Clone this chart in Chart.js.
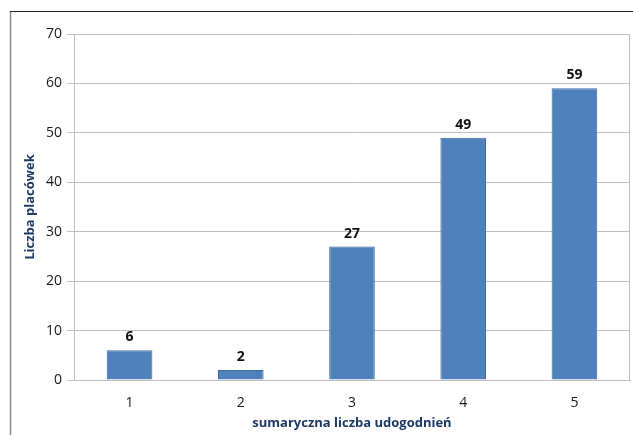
<!DOCTYPE html>
<html>
<head>
<meta charset="utf-8">
<script src="https://cdn.jsdelivr.net/npm/chart.js@4"></script>
<style>
  html, body { margin: 0; padding: 0; background: #fff; }
  #wrap { width: 633px; height: 435px; }
</style>
</head>
<body>
<div id="wrap"><canvas id="chart" width="633" height="435"></canvas></div>
<script>
const categories = ['1', '2', '3', '4', '5'];
const counts = [6, 2, 27, 49, 59];
const yTicks = [0, 10, 20, 30, 40, 50, 60, 70];

const fontFamily = "'Open Sans', 'Liberation Sans', sans-serif";

// frame around the picture and border of the plot area
const framePlugin = {
  id: 'frame',
  afterDraw(chart) {
    const ctx = chart.ctx;
    const a = chart.chartArea;
    ctx.save();
    ctx.strokeStyle = '#8c8c8c';
    ctx.lineWidth = 1.5;
    ctx.beginPath();
    ctx.moveTo(10.5, 11);
    ctx.lineTo(10.5, 435);
    ctx.stroke();
    ctx.strokeStyle = '#222';
    ctx.lineWidth = 1.2;
    ctx.beginPath();
    ctx.moveTo(10, 11.5);
    ctx.lineTo(633, 11.5);
    ctx.stroke();
    ctx.strokeStyle = '#bfbfbf';
    ctx.lineWidth = 1;
    ctx.beginPath();
    ctx.moveTo(a.right - 0.5, a.top);
    ctx.lineTo(a.right - 0.5, a.bottom);
    ctx.stroke();
    ctx.restore();
  }
};

// value labels above the bars
const labelPlugin = {
  id: 'barLabels',
  afterDatasetsDraw(chart) {
    const ctx = chart.ctx;
    const meta = chart.getDatasetMeta(0);
    ctx.save();
    ctx.font = 'bold 14px ' + fontFamily;
    ctx.fillStyle = '#111';
    ctx.textAlign = 'center';
    ctx.textBaseline = 'alphabetic';
    meta.data.forEach((bar, i) => {
      ctx.fillText(String(counts[i]), bar.x, bar.y - 9);
    });
    ctx.restore();
  }
};

new Chart(document.getElementById('chart').getContext('2d'), {
  type: 'bar',
  data: {
    labels: categories,
    datasets: [{
      data: counts,
      backgroundColor: '#4f81bd',
      borderColor: '#3e6ea6',
      borderWidth: 1,
      categoryPercentage: 1,
      barPercentage: 0.41
    }]
  },
  options: {
    responsive: false,
    animation: false,
    layout: { padding: { left: 10, right: 3, top: 34, bottom: 4 } },
    plugins: {
      legend: { display: false },
      tooltip: { enabled: false }
    },
    scales: {
      y: {
        min: 0,
        max: 70,
        afterBuildTicks(scale) {
          scale.ticks = yTicks.map(v => ({ value: v }));
        },
        afterFit(scale) { scale.width = 64; },
        grid: { color: '#bfbfbf', lineWidth: 1, tickLength: 7 },
        border: { color: '#bfbfbf' },
        ticks: {
          color: '#1a1a1a',
          font: { family: fontFamily, size: 14 },
          padding: 5
        },
        title: {
          display: true,
          text: 'Liczba placówek',
          color: '#1f3864',
          font: { family: fontFamily, size: 13, weight: 'bold' },
          padding: { top: 12, bottom: 4 }
        }
      },
      x: {
        afterFit(scale) { scale.height = 51; },
        grid: { display: false },
        border: { color: '#bfbfbf' },
        ticks: {
          color: '#1a1a1a',
          font: { family: fontFamily, size: 14 },
          padding: 7
        },
        title: {
          display: true,
          text: 'sumaryczna liczba udogodnień',
          color: '#1f3864',
          font: { family: fontFamily, size: 13, weight: 'bold' },
          padding: { top: 4, bottom: 0 }
        }
      }
    }
  },
  plugins: [framePlugin, labelPlugin]
});
</script>
</body>
</html>
